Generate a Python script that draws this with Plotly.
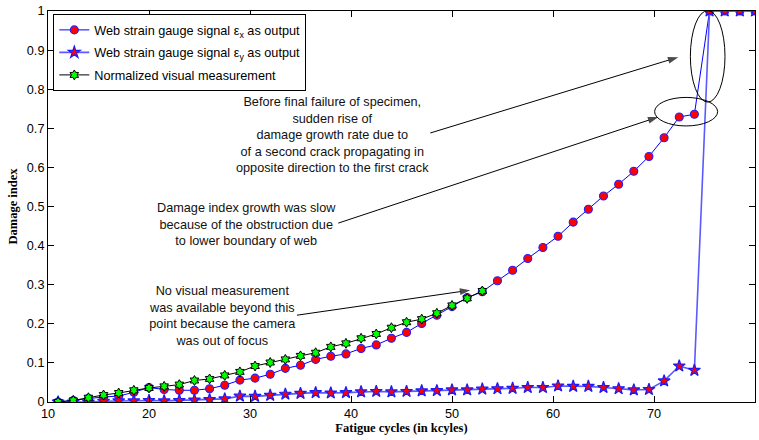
import plotly.graph_objects as go

# Fatigue cycles (kcycles) at which the damage index was evaluated
cycles = [11 + 1.5 * i for i in range(47)]

# Damage index from web strain gauge signal eps_x
damage_ex = [0.0, 0.004, 0.009, 0.013, 0.015, 0.025, 0.037, 0.032, 0.030, 0.030,
             0.034, 0.043, 0.056, 0.061, 0.071, 0.086, 0.094, 0.109, 0.117, 0.123,
             0.137, 0.146, 0.163, 0.178, 0.201, 0.222, 0.244, 0.267, 0.282, 0.310,
             0.337, 0.367, 0.395, 0.424, 0.460, 0.493, 0.527, 0.557, 0.590, 0.628,
             0.676, 0.729, 0.736, 1.0, 1.0, 1.0, 1.0]

# Damage index from web strain gauge signal eps_y
damage_ey = [0.0, 0.0, 0.0, 0.002, 0.003, 0.003, 0.004, 0.003, 0.004, 0.005,
             0.006, 0.008, 0.015, 0.0145, 0.017, 0.020, 0.022, 0.024, 0.023, 0.024,
             0.026, 0.027, 0.026, 0.027, 0.0285, 0.029, 0.031, 0.031, 0.033, 0.034,
             0.035, 0.037, 0.037, 0.041, 0.040, 0.040, 0.037, 0.034, 0.031, 0.032,
             0.054, 0.092, 0.081, 1.0, 1.0, 1.0, 1.0]

# Normalized visual crack measurement (camera lost focus after 53 kcycles)
visual_cycles = cycles[:29]
damage_visual = [0.0, 0.004, 0.011, 0.018, 0.023, 0.030, 0.036, 0.040, 0.0445, 0.055,
                 0.059, 0.068, 0.077, 0.092, 0.101, 0.109, 0.118, 0.126, 0.141, 0.150,
                 0.163, 0.174, 0.190, 0.204, 0.212, 0.227, 0.247, 0.265, 0.284]

x_ticks = [10, 20, 30, 40, 50, 60, 70, 80]
y_ticks = [0, 0.1, 0.2, 0.3, 0.4, 0.5, 0.6, 0.7, 0.8, 0.9, 1]

SANS = "Liberation Sans, Arial, Helvetica, sans-serif"
SERIF = "Liberation Serif, Times New Roman, serif"
TXT = 12.7

fig = go.Figure()

fig.add_trace(go.Scatter(
    x=cycles, y=damage_ex, mode="lines+markers",
    name="Web strain gauge signal \u03b5<sub>x</sub> as output",
    legendgroup="ex",
    line=dict(color="#0000ff", width=1),
    marker=dict(symbol="circle", size=8, color="#ff0000",
                line=dict(color="#2020ff", width=1.1)),
))

fig.add_trace(go.Scatter(
    x=cycles, y=damage_ey, mode="lines+markers",
    name="Web strain gauge signal \u03b5<sub>y</sub> as output",
    legendgroup="ey",
    line=dict(color="#5a5aff", width=1.6),
    marker=dict(symbol="star", size=9, color="#ff0000",
                line=dict(color="#1a1aff", width=1.2)),
))

fig.add_trace(go.Scatter(
    x=visual_cycles, y=damage_visual, mode="lines+markers",
    name="Normalized visual measurement",
    legendgroup="vis",
    line=dict(color="#000000", width=1),
    marker=dict(symbol="hexagram", size=7.5, color="#00ff00",
                line=dict(color="#000000", width=1)),
))

# Ellipses highlighting the plateau and the final failure jump
fig.add_shape(type="circle", xref="x", yref="y", x0=70.06, x1=76.3, y0=0.706, y1=0.779,
              line=dict(color="black", width=1))
fig.add_shape(type="circle", xref="x", yref="y", x0=73.6, x1=77.03, y0=0.767, y1=1.001,
              line=dict(color="black", width=1))

notes = [
    dict(text="Before final failure of specimen,<br>sudden rise of<br>damage growth rate due to"
              "<br>of a second crack propagating in<br>opposite direction to the first crack",
         x=38.12, y=0.683),
    dict(text="Damage index growth was slow<br>because of the obstruction due<br>to lower boundary of web",
         x=29.70, y=0.4537),
    dict(text="No visual measurement<br>was available beyond this<br>point because the camera<br>was out of focus",
         x=27.31, y=0.2207),
]
for n in notes:
    fig.add_annotation(text=n["text"], x=n["x"], y=n["y"], xref="x", yref="y",
                       showarrow=False, align="center", xanchor="center", yanchor="middle",
                       font=dict(family=SANS, size=TXT, color="#111111"))

# Callout arrows: (tail x, tail y) -> (head x, head y), head drawn as a rotated marker
arrows = [
    (47.85, 0.688, 72.41, 0.882),
    (38.74, 0.4575, 70.43, 0.729),
    (34.65, 0.222, 51.81, 0.286),
]
for tx, ty, hx, hy in arrows:
    fig.add_trace(go.Scatter(
        x=[tx, hx], y=[ty, hy], mode="lines+markers",
        showlegend=False, hoverinfo="skip",
        line=dict(color="black", width=1),
        marker=dict(symbol="arrow", size=[0, 11], angleref="previous",
                    color="black", line=dict(width=0)),
    ))

axis_common = dict(
    showline=True, linecolor="black", linewidth=1, mirror="ticks",
    ticks="inside", ticklen=6, tickwidth=1, tickcolor="black",
    showgrid=False, zeroline=False,
    tickfont=dict(family=SANS, size=TXT, color="black"),
)

fig.update_xaxes(range=[10, 80], tickvals=x_ticks, **axis_common,
                 title=dict(text="<b>Fatigue cycles (in kcyles)</b>", standoff=3,
                            font=dict(family=SERIF, size=12.5, color="black")))
fig.update_yaxes(range=[0, 1], tickvals=y_ticks, **axis_common,
                 title=dict(text="<b>Damage index</b>", standoff=6,
                            font=dict(family=SERIF, size=12.5, color="black")))

fig.update_layout(
    width=759, height=440,
    margin=dict(l=48, r=4, t=11, b=38, autoexpand=False),
    plot_bgcolor="white", paper_bgcolor="white",
    legend=dict(x=0.0075, y=0.992, xanchor="left", yanchor="top",
                bgcolor="white", bordercolor="black", borderwidth=1,
                font=dict(family=SANS, size=TXT, color="black"),
                traceorder="grouped", tracegroupgap=3),
    showlegend=True,
)

fig.write_html("out.html", config=dict(displayModeBar=False))
